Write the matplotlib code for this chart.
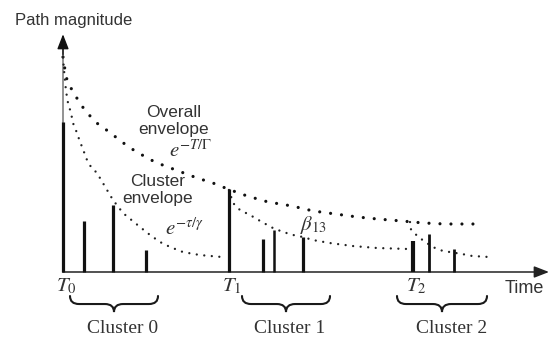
import matplotlib
matplotlib.use("Agg")
import matplotlib.pyplot as plt
from matplotlib.path import Path
from matplotlib.patches import PathPatch

plt.rcParams['mathtext.fontset'] = 'stix'

# ---- data (time in arbitrary units, magnitude normalised) ----
path_times = [0.0, 2.1, 5.0, 8.3, 16.6, 20.0, 21.1, 24.0, 35.0, 36.6, 39.1]
path_mags = [1.0, 0.34, 0.447, 0.147, 0.553, 0.22, 0.28, 0.233, 0.207, 0.253, 0.153]
path_widths = [2.3, 2.3, 2.3, 2.3, 2.3, 2.3, 1.8, 2.3, 3.0, 2.0, 2.0]

overall_t = [0.0, 0.2, 0.4, 0.9, 1.5, 2.1, 2.8, 3.6, 4.5, 5.4, 6.3, 7.2, 8.1, 9.2,
             10.2, 13.4, 15.0, 16.5, 18.4, 20.5, 22.9, 25.0, 27.2, 29.4, 31.5,
             33.9, 36.0, 38.2, 41.7]
overall_m = [1.433, 1.347, 1.28, 1.213, 1.147, 1.087, 1.033, 0.98, 0.94, 0.893,
             0.847, 0.807, 0.773, 0.733, 0.707, 0.627, 0.593, 0.553, 0.507,
             0.467, 0.44, 0.407, 0.387, 0.367, 0.353, 0.34, 0.327, 0.32, 0.32]

cl0_t = [0.0, 0.1, 0.3, 0.5, 0.8, 1.0, 1.4, 1.7, 2.0, 2.3, 2.8, 3.4, 4.4, 5.0,
         6.0, 7.7, 8.7, 9.7, 10.7, 12.0, 13.7, 15.9]
cl0_m = [1.433, 1.347, 1.207, 1.127, 1.06, 0.993, 0.927, 0.867, 0.82, 0.76,
         0.70, 0.66, 0.547, 0.48, 0.393, 0.30, 0.247, 0.20, 0.167, 0.133,
         0.113, 0.10]

cl1_t = [16.6, 17.0, 17.7, 18.7, 19.9, 21.0, 22.0, 23.0, 24.0, 25.0, 26.7,
         29.0, 31.4, 34.7]
cl1_m = [0.547, 0.46, 0.413, 0.38, 0.333, 0.293, 0.267, 0.247, 0.233, 0.213,
         0.193, 0.173, 0.16, 0.153]

cl2_t = [34.7, 34.7, 35.1, 35.7, 36.2, 37.2, 38.0, 38.7, 39.9, 40.9, 42.6]
cl2_m = [0.333, 0.293, 0.26, 0.227, 0.20, 0.16, 0.14, 0.133, 0.12, 0.107, 0.10]

cluster_labels = ['Cluster 0', 'Cluster 1', 'Cluster 2']
arrival_labels = [r'$T_0$', r'$T_1$', r'$T_2$']
arrival_times = [0.0, 16.6, 35.0]

# ---- layout ----
brace_spans = [(0.7, 9.5), (17.9, 26.7), (33.4, 42.4)]
label_centres = [6.0, 22.7, 38.9]

fig = plt.figure(figsize=(5.5, 3.38), dpi=100)
ax = fig.add_axes([0, 0, 1, 1])
ax.set_xlim(-6.3, 48.7)
ax.set_ylim(-0.44, 1.8133)
ax.axis('off')

txt = '#333333'
sans = 'Liberation Sans'
serif = 'Liberation Serif'

# axes with arrows
ax.plot([0, 0], [0, 1.5], color='#8a8a8a', lw=1.3, zorder=1)
ax.annotate('', xy=(0, 1.585), xytext=(0, 1.45),
            arrowprops=dict(arrowstyle='-|>,head_length=0.9,head_width=0.35',
                            color='#111111', lw=1.0, shrinkA=0, shrinkB=0))
ax.annotate('', xy=(48.6, 0), xytext=(0, 0),
            arrowprops=dict(arrowstyle='-|>,head_length=0.9,head_width=0.35',
                            color='#222222', lw=1.1, shrinkA=0, shrinkB=0))

# paths
for t, m, w in zip(path_times, path_mags, path_widths):
    ax.vlines(t, 0, m, color='#111111', lw=w, zorder=3)

# envelopes
ax.plot(overall_t, overall_m, color='#111111', lw=2.3,
        linestyle=(0, (0.001, 3.44)), dash_capstyle='round', zorder=2)
for tt, mm in [(cl0_t, cl0_m), (cl1_t, cl1_m), (cl2_t, cl2_m)]:
    ax.plot(tt, mm, color='#222222', lw=1.7,
            linestyle=(0, (0.001, 3.2)), dash_capstyle='round', zorder=2)

# texts
ax.text(-4.8, 1.675, 'Path magnitude', family=sans, fontsize=12, color=txt,
        ha='left', va='center')
ax.text(11.1, 1.06, 'Overall', family=sans, fontsize=12.5, color=txt,
        ha='center', va='center')
ax.text(11.1, 0.947, 'envelope', family=sans, fontsize=12.5, color=txt,
        ha='center', va='center')
ax.text(12.8, 0.815, r'$e^{-T/\Gamma}$', fontsize=15, color=txt,
        ha='center', va='center')
ax.text(9.45, 0.60, 'Cluster', family=sans, fontsize=12.5, color=txt,
        ha='center', va='center')
ax.text(9.45, 0.493, 'envelope', family=sans, fontsize=12.5, color=txt,
        ha='center', va='center')
ax.text(12.1, 0.295, r'$e^{-\tau/\gamma}$', fontsize=15, color=txt,
        ha='center', va='center')
ax.text(25.0, 0.313, r'$\beta_{13}$', fontsize=15, color=txt,
        ha='center', va='center')
for t, lab in zip(arrival_times, arrival_labels):
    ax.text(t + 0.3, -0.095, lab, fontsize=15, color=txt, ha='center', va='center')
ax.text(44.2, -0.107, 'Time', family=sans, fontsize=13, color=txt,
        ha='left', va='center')


def brace(t0, t1, m_top, m_tip, r):
    mid = (t0 + t1) / 2.0
    h = (m_top + m_tip) / 2.0
    verts = [(t0, m_top), (t0, h), (t0 + r, h),
             (mid - r, h), (mid, h), (mid, m_tip),
             (mid, h), (mid + r, h),
             (t1 - r, h), (t1, h), (t1, m_top)]
    codes = [Path.MOVETO, Path.CURVE3, Path.CURVE3,
             Path.LINETO, Path.CURVE3, Path.CURVE3,
             Path.CURVE3, Path.CURVE3,
             Path.LINETO, Path.CURVE3, Path.CURVE3]
    ax.add_patch(PathPatch(Path(verts, codes), fill=False, lw=1.5,
                           edgecolor='#1a1a1a', capstyle='round'))


for (a, b), c, lab in zip(brace_spans, label_centres, cluster_labels):
    brace(a, b, -0.160, -0.267, 0.9)
    ax.text(c, -0.378, lab, family=serif, fontsize=14, color=txt,
            ha='center', va='center')

fig.savefig('out.png', dpi=100)
